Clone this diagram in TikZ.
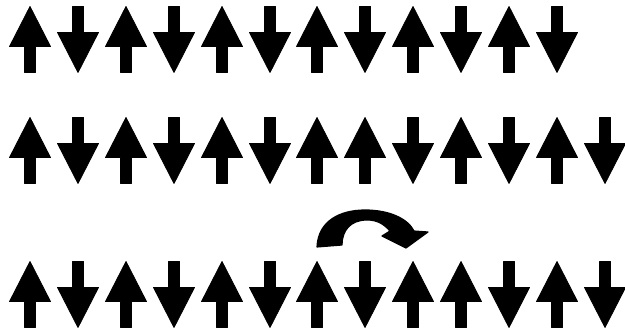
\documentclass[tikz,border=0pt]{standalone}
\usepackage{tikz}

\begin{document}
\begin{tikzpicture}[
        x=0.5pt, y=0.5pt,
        spin/.style={fill=black, draw=black, line width=0.4pt, line join=round},
        spinup/.pic={\fill[spin] (0,33) -- (20.5,-7) -- (5.5,-7) -- (5.5,-33) -- (-5.5,-33) -- (-5.5,-7) -- (-20.5,-7) -- cycle;},
        spindown/.pic={\fill[spin] (0,-33) -- (20.5,7) -- (5.5,7) -- (5.5,33) -- (-5.5,33) -- (-5.5,7) -- (-20.5,7) -- cycle;},
        flip/.style={fill=black, draw=black, line width=0.6pt, line join=round}
    ]
        \useasboundingbox (0,0) rectangle (625,331);
        % Row 1
        \pic (a1) at (30,291.5) {spinup};
        \pic (a2) at (78,291.5) {spindown};
        \pic (a3) at (126,291.5) {spinup};
        \pic (a4) at (174,291.5) {spindown};
        \pic (a5) at (222,291.5) {spinup};
        \pic (a6) at (270,291.5) {spindown};
        \pic (a7) at (317,291.5) {spinup};
        \pic (a8) at (365,291.5) {spindown};
        \pic (a9) at (413,291.5) {spinup};
        \pic (a10) at (461,291.5) {spindown};
        \pic (a11) at (509,291.5) {spinup};
        \pic (a12) at (557,291.5) {spindown};
        % Row 2
        \pic (b1) at (30,180.5) {spinup};
        \pic (b2) at (78,180.5) {spindown};
        \pic (b3) at (126,180.5) {spinup};
        \pic (b4) at (174,180.5) {spindown};
        \pic (b5) at (222,180.5) {spinup};
        \pic (b6) at (270,180.5) {spindown};
        \pic (b7) at (317,180.5) {spinup};
        \pic (b8) at (365,180.5) {spinup};
        \pic (b9) at (413,180.5) {spindown};
        \pic (b10) at (461,180.5) {spinup};
        \pic (b11) at (509,180.5) {spindown};
        \pic (b12) at (557,180.5) {spinup};
        \pic (b13) at (605,180.5) {spindown};
        % Row 3
        \pic (c1) at (30,36.5) {spinup};
        \pic (c2) at (78,36.5) {spindown};
        \pic (c3) at (126,36.5) {spinup};
        \pic (c4) at (174,36.5) {spindown};
        \pic (c5) at (222,36.5) {spinup};
        \pic (c6) at (270,36.5) {spindown};
        \pic (c7) at (317,36.5) {spinup};
        \pic (c8) at (365,36.5) {spindown};
        \pic (c9) at (413,36.5) {spinup};
        \pic (c10) at (461,36.5) {spinup};
        \pic (c11) at (509,36.5) {spindown};
        \pic (c12) at (557,36.5) {spinup};
        \pic (c13) at (605,36.5) {spindown};
        % Flip arrow
        \fill[flip] (317,84) .. controls (318,110) and (340,121) .. (365,121)
            .. controls (390,121) and (408,112) .. (414,100) -- (428,99) -- (406,83) -- (382,95) -- (390,100)
            .. controls (383,108) and (376,111) .. (367,111)
            .. controls (350,111) and (342,100) .. (342,86) -- cycle;
    \end{tikzpicture}
\end{document}
